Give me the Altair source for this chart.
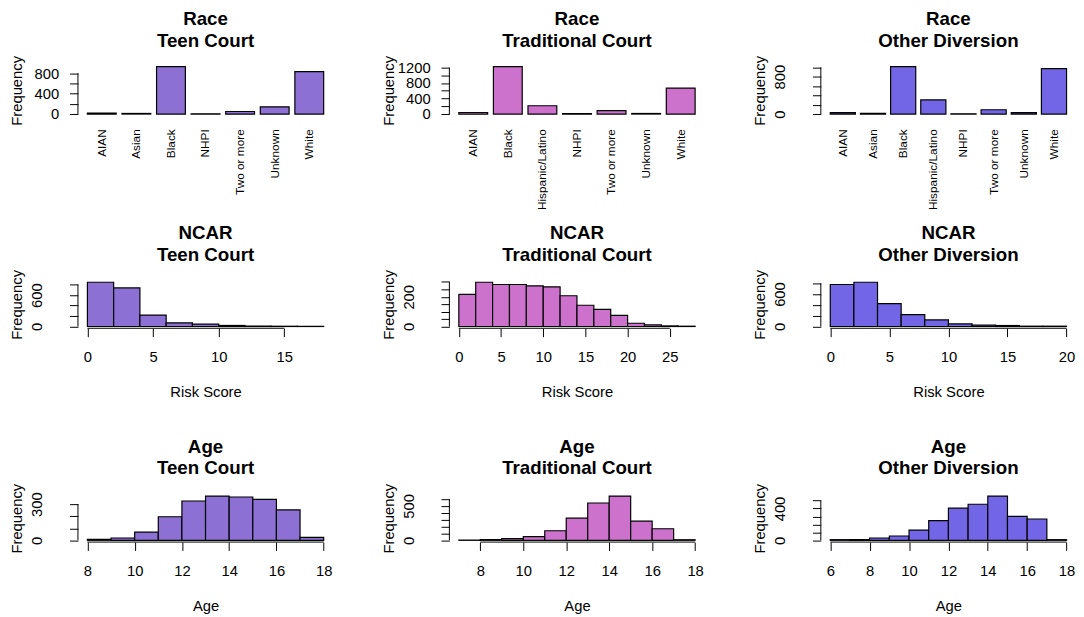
import altair as alt
import pandas as pd

# ---------------- data ----------------
race_teen_cats = ["AIAN", "Asian", "Black", "NHPI", "Two or more", "Unknown", "White"]
race_teen_vals = [20, 12, 930, 5, 50, 142, 833]

race_trad_cats = ["AIAN", "Black", "Hispanic/Latino", "NHPI", "Two or more", "Unknown", "White"]
race_trad_vals = [40, 1225, 215, 10, 88, 15, 668]

race_other_cats = ["AIAN", "Asian", "Black", "Hispanic/Latino", "NHPI", "Two or more", "Unknown", "White"]
race_other_vals = [30, 15, 1016, 302, 5, 92, 30, 974]

ncar_teen_edges = [0, 2, 4, 6, 8, 10, 12, 14, 16, 18]
ncar_teen_counts = [845, 737, 219, 69, 44, 20, 8, 5, 3]

ncar_trad_edges = [0, 2, 4, 6, 8, 10, 12, 14, 16, 18, 20, 22, 24, 26, 28]
ncar_trad_counts = [216, 298, 283, 283, 274, 267, 207, 143, 115, 75, 22, 11, 4, 2]

ncar_other_edges = [0, 2, 4, 6, 8, 10, 12, 14, 16, 18, 20]
ncar_other_counts = [776, 818, 424, 218, 121, 48, 24, 18, 6, 6]

age_teen_edges = [8, 9, 10, 11, 12, 13, 14, 15, 16, 17, 18]
age_teen_counts = [8, 19, 68, 196, 327, 368, 360, 341, 253, 25]

age_trad_edges = [7, 8, 9, 10, 11, 12, 13, 14, 15, 16, 17, 18]
age_trad_counts = [3, 10, 24, 53, 139, 322, 543, 644, 279, 168, 8]

age_other_edges = [6, 7, 8, 9, 10, 11, 12, 13, 14, 15, 16, 17, 18]
age_other_counts = [8, 8, 29, 54, 128, 247, 404, 454, 557, 301, 268, 8]

# ---------------- style ----------------
FONT = "Liberation Sans"
TEEN = "#8C70D4"
TRAD = "#CC72CC"
OTHER = "#7366E6"
W = 259
H_RACE = 52
H_HIST = 48.5
COL_GAP = 49
ONE = pd.DataFrame({"k": [0]})


def title_params(line1, line2):
    return alt.TitleParams(text=[line1, line2], font=FONT, fontSize=19, fontWeight="bold",
                           lineHeight=22, anchor="middle", frame="group", baseline="alphabetic",
                           offset=-10, color="black")


def label_test(labels):
    return " || ".join("datum.value == %s" % v for v in labels)


def y_axis(ticks, labels, rotated, H):
    kw = dict(values=ticks, format="d",
              labelExpr="(%s) ? datum.label : ''" % label_test(labels),
              grid=False, domain=False, ticks=True, tickSize=8.5, tickColor="black", tickWidth=1,
              labelFont=FONT, labelFontSize=15, labelColor="black", labelOverlap=False,
              labelFlush=False, title="Frequency", titleFont=FONT, titleFontSize=15,
              titleFontWeight="normal", titleColor="black", titleX=-57, titleY=H / 2,
              titleAngle=270, titleAlign="center", titleBaseline="alphabetic")
    if rotated:
        kw.update(labelAngle=270, labelAlign="center", labelBaseline="alphabetic", labelPadding=28)
    else:
        kw.update(labelAngle=0, labelAlign="right", labelBaseline="middle", labelPadding=11)
    return alt.Axis(**kw)


def x_axis(ticks, title):
    return alt.Axis(values=ticks, grid=False, domain=False, tickSize=8.5, tickColor="black",
                    tickWidth=1, labelFont=FONT, labelFontSize=15, labelColor="black",
                    labelBaseline="alphabetic", labelPadding=25, labelFlush=False,
                    labelOverlap=False, format="d", title=title, titleFont=FONT,
                    titleFontSize=15, titleFontWeight="normal", titleColor="black",
                    titleX=W / 2, titleY=69, titleAlign="center", titleBaseline="alphabetic")


def y_line(ticks, axis):
    return alt.Chart(ONE).mark_rule(color="black", strokeWidth=1).encode(
        x=alt.value(0), y=alt.YDatum(ticks[0], axis=axis), y2=alt.datum(ticks[-1]))


def race_panel(line2, cats, vals, color, yticks, ylabels, rotated):
    n = len(cats)
    ymax = max(vals)
    df = pd.DataFrame({"category": cats, "count": vals})
    p_outer = 0.04 * (1.2 * n - 0.2) / 1.2
    yax = y_axis(yticks, ylabels, rotated, H_RACE)
    bars = alt.Chart(df).mark_bar(color=color, stroke="black", strokeWidth=1.2).encode(
        x=alt.X("category:N", sort=cats,
                scale=alt.Scale(paddingInner=1 / 6, paddingOuter=p_outer),
                axis=alt.Axis(title=None, labelAngle=270, labelAlign="right", labelBaseline="middle",
                              ticks=False, domain=False, labelPadding=13, labelFont=FONT,
                              labelFontSize=12, labelColor="black", labelLimit=200)),
        y=alt.Y("count:Q", scale=alt.Scale(domain=[-0.04 * ymax, 1.04 * ymax], nice=False, zero=False),
                axis=yax),
        y2=alt.datum(0),
    )
    return alt.layer(bars, y_line(yticks, yax)).properties(
        width=W, height=H_RACE, title=title_params("Race", line2))


def hist_panel(line1, line2, edges, counts, color, xticks, xtitle, yticks, ylabels):
    df = pd.DataFrame({"start": edges[:-1], "end": edges[1:], "count": counts})
    lo, hi = edges[0], edges[-1]
    ext = 0.04 * (hi - lo)
    ymax = max(counts)
    xax = x_axis(xticks, xtitle)
    yax = y_axis(yticks, ylabels, True, H_HIST)
    bars = alt.Chart(df).mark_bar(color=color, stroke="black", strokeWidth=1.2).encode(
        x=alt.X("start:Q", scale=alt.Scale(domain=[lo - ext, hi + ext], nice=False, zero=False),
                axis=xax),
        x2="end:Q",
        y=alt.Y("count:Q", scale=alt.Scale(domain=[-0.04 * ymax, 1.04 * ymax], nice=False, zero=False),
                axis=yax),
        y2=alt.datum(0),
    )
    x_line = alt.Chart(ONE).mark_rule(color="black", strokeWidth=1).encode(
        x=alt.XDatum(xticks[0], axis=xax), x2=alt.datum(xticks[-1]), y=alt.value(H_HIST))
    return alt.layer(bars, x_line, y_line(yticks, yax)).properties(
        width=W, height=H_HIST, title=title_params(line1, line2))


row1 = alt.hconcat(
    race_panel("Teen Court", race_teen_cats, race_teen_vals, TEEN,
               [0, 200, 400, 600, 800], [0, 400, 800], False),
    race_panel("Traditional Court", race_trad_cats, race_trad_vals, TRAD,
               [0, 200, 400, 600, 800, 1000, 1200], [0, 400, 800, 1200], False),
    race_panel("Other Diversion", race_other_cats, race_other_vals, OTHER,
               [0, 200, 400, 600, 800, 1000], [0, 800], True),
    spacing=COL_GAP,
)
row2 = alt.hconcat(
    hist_panel("NCAR", "Teen Court", ncar_teen_edges, ncar_teen_counts, TEEN,
               [0, 5, 10, 15], "Risk Score", [0, 200, 400, 600, 800], [0, 600]),
    hist_panel("NCAR", "Traditional Court", ncar_trad_edges, ncar_trad_counts, TRAD,
               [0, 5, 10, 15, 20, 25], "Risk Score",
               [0, 50, 100, 150, 200, 250, 300], [0, 200]),
    hist_panel("NCAR", "Other Diversion", ncar_other_edges, ncar_other_counts, OTHER,
               [0, 5, 10, 15, 20], "Risk Score", [0, 200, 400, 600, 800], [0, 600]),
    spacing=COL_GAP,
)
row3 = alt.hconcat(
    hist_panel("Age", "Teen Court", age_teen_edges, age_teen_counts, TEEN,
               [8, 10, 12, 14, 16, 18], "Age", [0, 100, 200, 300], [0, 300]),
    hist_panel("Age", "Traditional Court", age_trad_edges, age_trad_counts, TRAD,
               [8, 10, 12, 14, 16, 18], "Age", [0, 100, 200, 300, 400, 500, 600], [0, 500]),
    hist_panel("Age", "Other Diversion", age_other_edges, age_other_counts, OTHER,
               [6, 8, 10, 12, 14, 16, 18], "Age", [0, 100, 200, 300, 400, 500], [0, 400]),
    spacing=COL_GAP,
)

chart = alt.vconcat(row1, alt.vconcat(row2, row3, spacing=38), spacing=13).properties(
    padding={"left": 2, "top": -3, "right": 0, "bottom": 0}, background="white"
).configure_view(strokeWidth=0).configure_axis(labelOverlap=False)

chart.save("out.html", embed_options={"renderer": "svg", "actions": False})
